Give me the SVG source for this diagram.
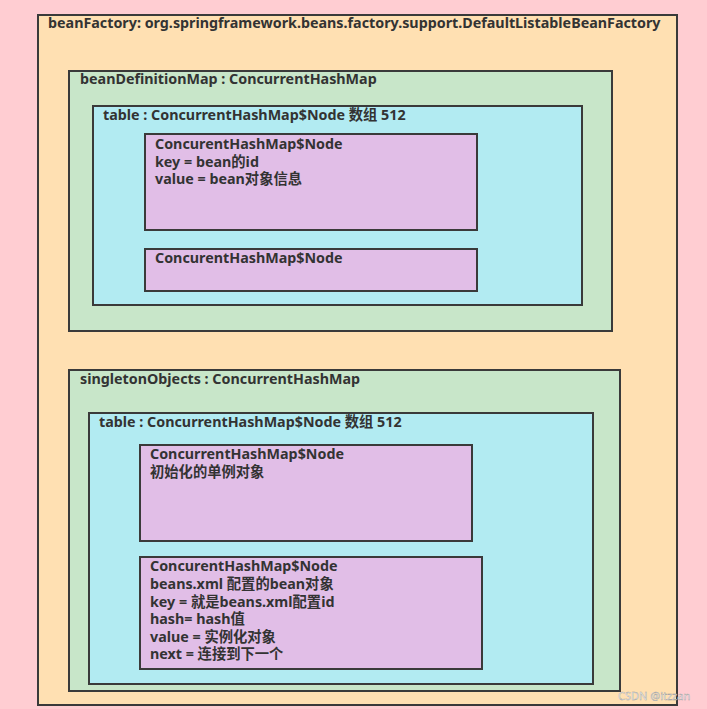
<svg xmlns="http://www.w3.org/2000/svg" width="707" height="709" viewBox="0 0 707 709">
<style>
.b{stroke:#3a3a3a;stroke-width:2}
.f{fill:#FFE0B2}.g{fill:#C8E6C9}.c{fill:#B2EBF2}.p{fill:#E1BEE7}
text{font-family:"Noto Sans","Noto Sans CJK SC",sans-serif;font-weight:bold;font-size:14.3px;fill:#333}
.wm{font-weight:normal;font-size:11px;fill:#fff;stroke:#9a9a9a;stroke-width:0.4}
</style>
<rect x="0" y="0" width="707" height="709" fill="#FFCDD2"/>
<g id="beanFactory">
<rect class="b f" x="38" y="15" width="639" height="690"/>
<text x="48" y="28">beanFactory: org.springframework.beans.factory.support.DefaultListableBeanFactory</text>
</g>
<g id="beanDefinitionMap">
<rect class="b g" x="69" y="71" width="543" height="260"/>
<text x="80" y="84">beanDefinitionMap : ConcurrentHashMap</text>
</g>
<g id="table1">
<rect class="b c" x="93" y="106" width="489" height="199"/>
<text x="103" y="120">table : ConcurrentHashMap$Node 数组 512</text>
</g>
<g id="node1">
<rect class="b p" x="145" y="134" width="332" height="96"/>
<text x="155" y="149">ConcurentHashMap$Node</text>
<text x="155" y="166.5">key = bean的id</text>
<text x="155" y="184">value = bean对象信息</text>
</g>
<g id="node2">
<rect class="b p" x="145" y="249" width="332" height="42"/>
<text x="155" y="263">ConcurentHashMap$Node</text>
</g>
<g id="singletonObjects">
<rect class="b g" x="69" y="370" width="551" height="321"/>
<text x="80" y="384">singletonObjects : ConcurrentHashMap</text>
</g>
<g id="table2">
<rect class="b c" x="89" y="413" width="504" height="271"/>
<text x="99" y="427">table : ConcurrentHashMap$Node 数组 512</text>
</g>
<g id="node3">
<rect class="b p" x="140" y="445" width="332" height="96"/>
<text x="150" y="459">ConcurrentHashMap$Node</text>
<text x="150" y="477">初始化的单例对象</text>
</g>
<g id="node4">
<rect class="b p" x="140" y="557" width="342" height="112"/>
<text x="150" y="571">ConcurentHashMap$Node</text>
<text x="150" y="589">beans.xml 配置的bean对象</text>
<text x="150" y="606.5">key = 就是beans.xml配置id</text>
<text x="150" y="624">hash= hash值</text>
<text x="150" y="641.5">value = 实例化对象</text>
<text x="150" y="659">next = 连接到下一个</text>
</g>
<g id="connectors"/>
<text class="wm" x="618" y="700">CSDN @itzzan</text>
</svg>
